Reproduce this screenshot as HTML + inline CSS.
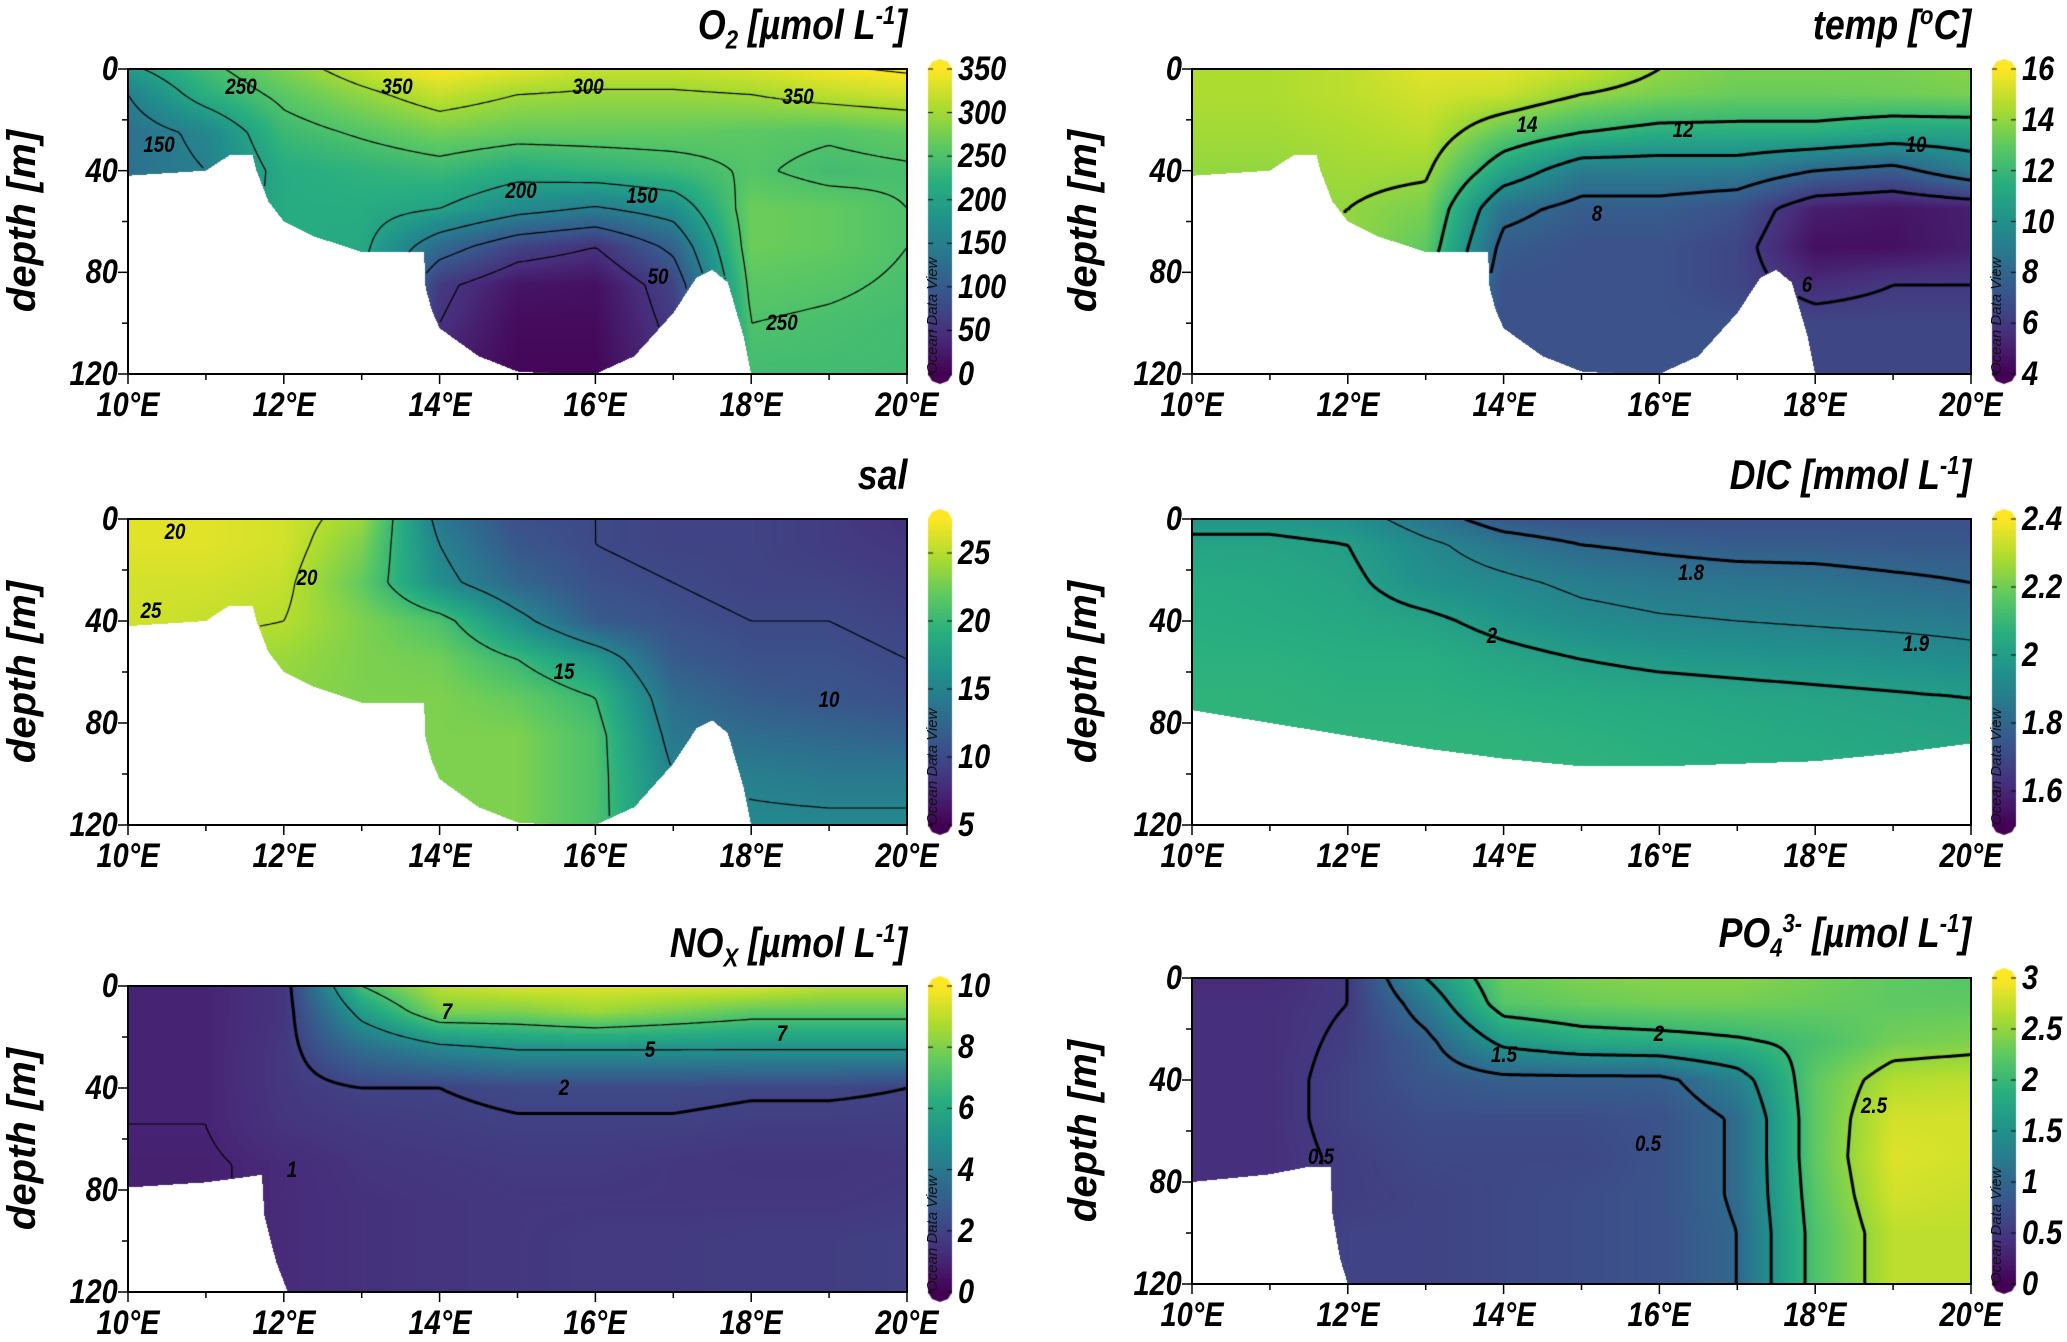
<!DOCTYPE html>
<html><head><meta charset="utf-8">
<style>
html,body{margin:0;padding:0;background:#fff;}
body{width:2067px;height:1335px;position:relative;overflow:hidden;}
.t{font-family:"Liberation Sans",sans-serif;font-weight:bold;font-style:italic;position:absolute;white-space:nowrap;color:#000;line-height:1;}
.title{font-size:42px;transform-origin:100% 50%;transform:scaleX(0.85);}
.title sub,.title sup{font-size:26px;}
.ylab{font-size:40px;transform:translate(-50%,-50%) rotate(-90deg);}
canvas{position:absolute;}
.cl{font-size:22px;transform:translate(-50%,-50%) scaleX(0.85);}
.odv{font-family:"Liberation Sans",sans-serif;font-style:italic;font-size:15px;position:absolute;transform:rotate(-90deg);transform-origin:0 0;white-space:nowrap;color:#111;}
</style></head><body>

<div class="t title" style="right:1160px;top:2px;">O<sub>2</sub> [µmol L<sup>-1</sup>]</div>
<div class="t title" style="right:96px;top:2px;">temp [<sup>o</sup>C]</div>
<div class="t title" style="right:1160px;top:454px;">sal</div>
<div class="t title" style="right:96px;top:452px;">DIC [mmol L<sup>-1</sup>]</div>
<div class="t title" style="right:1160px;top:920px;">NO<sub>X</sub> [µmol L<sup>-1</sup>]</div>
<div class="t title" style="right:96px;top:910px;">PO<sub>4</sub><sup>3-</sup> [µmol L<sup>-1</sup>]</div>

<div class="t ylab" style="left:22px;top:221px;">depth [m]</div>
<div class="t ylab" style="left:1083px;top:221px;">depth [m]</div>
<div class="t ylab" style="left:22px;top:672px;">depth [m]</div>
<div class="t ylab" style="left:1083px;top:672px;">depth [m]</div>
<div class="t ylab" style="left:22px;top:1139px;">depth [m]</div>
<div class="t ylab" style="left:1083px;top:1131px;">depth [m]</div>

<script>
// ---- shared axes data ----
const lonGrid = [10,11,12,13,14,15,16,17,18,19,20];
const depthGrid = [0,10,25,40,55,70,85,100,120];
const xTickLabels = ["10°E","12°E","14°E","16°E","18°E","20°E"];
const xTickValues = [10,12,14,16,18,20];
const yTickValues = [0,40,80,120];

// ---- bathymetry masks ----
const maskALon = [10,11.0,11.3,11.6,11.65,11.8,12.0,12.4,12.8,13.0,13.8,13.82,13.9,14.0,14.5,15.0,15.5,16.0,16.5,17.0,17.3,17.5,17.7,17.9,18.0,20];
const maskABot = [42,40,34,34,40,52,60,66,70,72,72,86,95,102,113,119,120,120,113,96,82,79,84,105,120,120];
const maskDicLon = [10,11,12,13,14,15,16,17,18,19,20];
const maskDicBot = [75,80,85,90,94,97,97,96,95,92,88];
const maskNoxLon = [10,11,11.5,11.72,11.75,11.9,12.05,20];
const maskNoxBot = [79,77,75,74,90,108,120,120];
const maskPoLon = [10,11,11.5,11.78,11.8,11.9,12.0,20];
const maskPoBot = [80,77,74,74,92,110,120,120];

// ---- fields (rows = depthGrid, cols = lonGrid) ----
const o2Values = [
 [190,240,280,320,350,335,320,320,330,345,355],
 [150,220,260,290,320,300,295,295,300,315,325],
 [130,160,235,255,275,265,265,265,260,255,265],
 [130,150,215,225,235,215,225,235,255,240,245],
 [140,160,215,215,200,165,145,170,270,265,250],
 [140,160,215,210,120,70,50,110,270,265,250],
 [140,160,215,200,60,20,15,70,260,255,245],
 [140,160,210,180,50,10,10,60,250,245,240],
 [140,160,210,160,30,5,5,50,240,240,240]];
const tempValues = [
 [14.5,14.5,14.8,15.5,15.5,15,14,13.5,13.5,13.5,13.8],
 [14.5,14.5,14.8,15.2,15,14,13.5,13.2,13.2,13.3,13.5],
 [14.3,14.3,14.5,14.8,13,12,11.5,11.5,11.5,11,11],
 [14,14,14.3,14.2,11,9,9,9,8,7.5,9],
 [14,14,14,13.5,8.5,7.5,7.5,7,5,4.7,5],
 [14,14,14,13,7.5,7,7,6.5,4.5,4.5,5],
 [14,14,14,12,7,7,7,6.5,5.5,6,6],
 [14,14,14,11,7,7,7,7,6.5,6.5,6.5],
 [14,14,14,10,7,7,7,7,6.5,6.5,6.5]];
const salValues = [
 [26.5,26.5,26,24,14,10.5,10,9.5,9.5,9,8],
 [26.5,26.5,26,23,15,11,10,9.5,9.5,9,8.5],
 [26,26,25.5,22,16,12.5,10.5,10,9.5,9.5,9],
 [26,25.5,25,23,21,16,11.5,10.5,10,10,9.5],
 [25,24,24,23,22.5,20,17,11.5,10.5,10.5,10],
 [24,24,23.5,23,23,22,20,13,11.5,11,10.5],
 [23,23,23,23,23,23,21,14,13,12.5,12],
 [23,23,23,23,23,23,21,15,14.5,14,14],
 [23,23,23,23,23,23,21,15.5,15.5,15.5,15.5]];
const dicValues = [
 [1.97,1.97,1.95,1.85,1.75,1.72,1.72,1.72,1.72,1.72,1.72],
 [2.02,2.02,2.0,1.92,1.85,1.8,1.78,1.76,1.76,1.75,1.75],
 [2.05,2.04,2.02,1.95,1.92,1.88,1.86,1.85,1.84,1.82,1.8],
 [2.06,2.05,2.04,2.02,1.97,1.93,1.91,1.9,1.89,1.88,1.87],
 [2.07,2.07,2.06,2.06,2.03,2.0,1.98,1.97,1.96,1.95,1.93],
 [2.08,2.08,2.07,2.07,2.06,2.05,2.04,2.03,2.02,2.01,2.0],
 [2.08,2.08,2.08,2.08,2.08,2.07,2.06,2.05,2.04,2.03,2.02],
 [2.08,2.08,2.08,2.08,2.08,2.08,2.07,2.06,2.05,2.05,2.05],
 [2.08,2.08,2.08,2.08,2.08,2.08,2.07,2.06,2.05,2.05,2.05]];
const noxValues = [
 [1,1,1.5,7,9,9.5,9.5,9.5,9.5,9,9],
 [1,1,1.5,5.5,8,8,8.5,8,7.5,7.5,7.5],
 [1,1,1.6,3.5,4.5,5,5,5,5,5,5],
 [1,1,1.6,2,2,2.2,2.2,2.2,2.1,2.1,2],
 [1,1,1.5,1.7,1.8,1.9,1.9,1.9,1.8,1.8,1.8],
 [0.9,0.9,1.2,1.5,1.6,1.7,1.7,1.6,1.5,1.5,1.6],
 [0.9,0.9,1.2,1.4,1.5,1.6,1.6,1.6,1.6,1.6,1.7],
 [0.9,0.9,1.2,1.4,1.5,1.6,1.7,1.7,1.8,1.8,1.9],
 [0.9,0.9,1.2,1.4,1.5,1.6,1.7,1.7,1.8,1.8,1.9]];
const po4Values = [
 [0.35,0.35,0.5,1.5,2.3,2.4,2.45,2.45,2.35,2.25,2.2],
 [0.4,0.4,0.5,1.2,2.2,2.3,2.35,2.35,2.3,2.25,2.25],
 [0.4,0.4,0.55,0.9,1.6,1.8,1.85,1.95,2.1,2.35,2.4],
 [0.4,0.4,0.6,0.8,0.9,0.9,0.9,1.3,2.25,2.65,2.7],
 [0.4,0.4,0.6,0.7,0.7,0.7,0.75,1.05,2.25,2.8,2.8],
 [0.4,0.4,0.55,0.65,0.65,0.65,0.75,1.05,2.25,2.85,2.8],
 [0.4,0.4,0.55,0.6,0.65,0.7,0.75,1.05,2.2,2.8,2.75],
 [0.4,0.4,0.6,0.6,0.65,0.7,0.75,1.0,2.15,2.7,2.7],
 [0.4,0.4,0.6,0.6,0.65,0.7,0.75,1.0,2.15,2.7,2.7]];

// ---- colorbar ticks ----
const o2Ticks = [0,50,100,150,200,250,300,350];
const tempTicks = [4,6,8,10,12,14,16];
const salTicks = [5,10,15,20,25];
const dicTicks = [1.6,1.8,2,2.2,2.4];
const noxTicks = [0,2,4,6,8,10];
const po4Ticks = [0,0.5,1,1.5,2,2.5,3];

// ---- contour levels ----
const o2Levels = [50,100,150,200,250,300,350];
const tempLevels = [6,8,10,12,14];
const salLevels = [10,15,20,25];
const dicThinLevels = [1.9];
const dicLevels = [1.8,2];
const noxThinLevels = [1,5,7];
const noxLevels = [2];
const po4Levels = [0.5,1,1.5,2,2.5];

// ---- contour label data [lon, depth, text] ----
const o2Labels = [[11.45,7,"250"],[13.45,7,"350"],[15.9,7,"300"],[18.6,11,"350"],[10.4,30,"150"],[15.05,48,"200"],[16.6,50,"150"],[16.8,82,"50"],[18.4,100,"250"]];
const tempLabels = [[14.3,22,"14"],[16.3,24,"12"],[19.3,30,"10"],[15.2,57,"8"],[17.9,85,"6"]];
const salLabels = [[10.6,5,"20"],[10.3,36,"25"],[12.3,23,"20"],[15.6,60,"15"],[19.0,71,"10"]];
const dicLabels = [[16.4,21,"1.8"],[13.85,46,"2"],[19.3,49,"1.9"]];
const noxLabels = [[14.1,10,"7"],[16.7,25,"5"],[18.4,19,"7"],[15.6,40,"2"],[12.1,72,"1"]];
const po4Labels = [[16.0,22,"2"],[14.0,30,"1.5"],[18.75,50,"2.5"],[15.85,65,"0.5"],[11.65,70,"0.5"]];

const panels = [
 {id:"o2",x0:128,x1:907,y0:69,y1:374,cb:928,vmin:0,vmax:350,field:o2Values,ticks:o2Ticks,mLon:maskALon,mBot:maskABot,thick:[],thin:o2Levels,labels:o2Labels},
 {id:"temp",x0:1192,x1:1971,y0:69,y1:374,cb:1992,vmin:4,vmax:16,field:tempValues,ticks:tempTicks,mLon:maskALon,mBot:maskABot,thick:tempLevels,thin:[],labels:tempLabels},
 {id:"sal",x0:128,x1:907,y0:519,y1:825,cb:928,vmin:5,vmax:27.5,field:salValues,ticks:salTicks,mLon:maskALon,mBot:maskABot,thick:[],thin:salLevels,labels:salLabels},
 {id:"dic",x0:1192,x1:1971,y0:519,y1:825,cb:1992,vmin:1.5,vmax:2.4,field:dicValues,ticks:dicTicks,mLon:maskDicLon,mBot:maskDicBot,thick:dicLevels,thin:dicThinLevels,labels:dicLabels},
 {id:"nox",x0:128,x1:907,y0:986,y1:1292,cb:928,vmin:0,vmax:10,field:noxValues,ticks:noxTicks,mLon:maskNoxLon,mBot:maskNoxBot,thick:noxLevels,thin:noxThinLevels,labels:noxLabels},
 {id:"po4",x0:1192,x1:1971,y0:978,y1:1284,cb:1992,vmin:0,vmax:3,field:po4Values,ticks:po4Ticks,mLon:maskPoLon,mBot:maskPoBot,thick:po4Levels,thin:[],labels:po4Labels}
];

const vir = [[68,1,84],[71,45,123],[59,82,139],[44,114,142],[33,145,140],[40,174,128],[94,201,98],[173,220,48],[253,231,37]];
function viridis(t){t=Math.max(0,Math.min(1,t));const f=t*8;const i=Math.min(7,Math.floor(f));const r=f-i;const a=vir[i],b=vir[i+1];return [a[0]+(b[0]-a[0])*r,a[1]+(b[1]-a[1])*r,a[2]+(b[2]-a[2])*r];}
function interp1(xs,ys,x){if(x<=xs[0])return ys[0];for(let i=1;i<xs.length;i++){if(x<=xs[i]){const r=(x-xs[i-1])/(xs[i]-xs[i-1]||1);return ys[i-1]+(ys[i]-ys[i-1])*r;}}return ys[ys.length-1];}
function fieldAt(F,lon,d){
 let fi=(lon-lonGrid[0])/(lonGrid[1]-lonGrid[0]);fi=Math.max(0,Math.min(lonGrid.length-1.0001,fi));const i=Math.floor(fi),ri=fi-i;
 let j=0;while(j<depthGrid.length-2&&d>depthGrid[j+1])j++;const rj=Math.max(0,Math.min(1,(d-depthGrid[j])/(depthGrid[j+1]-depthGrid[j])));
 const a=F[j][i],b=F[j][i+1],c=F[j+1][i],e=F[j+1][i+1];
 return (a*(1-ri)+b*ri)*(1-rj)+(c*(1-ri)+e*ri)*rj;}
function fmt(v){return (Math.round(v*100)/100).toString();}

panels.forEach(p=>{
 const w=p.x1-p.x0,h=p.y1-p.y0;
 const xS=lon=>(lon-10)/10*w, yS=d=>d/120*h;
 const val=(px,py)=>{const lon=10+10*px/w,d=120*py/h;if(d>interp1(p.mLon,p.mBot,lon))return NaN;return fieldAt(p.field,lon,d);};
 const c=document.createElement('canvas');c.width=w;c.height=h;c.style.left=p.x0+'px';c.style.top=p.y0+'px';
 
 
 const ctx=c.getContext('2d');const img=ctx.createImageData(w,h);
 for(let py=0;py<h;py++)for(let px=0;px<w;px++){const v=val(px+0.5,py+0.5);const k=(py*w+px)*4;
  if(isNaN(v)){img.data[k]=255;img.data[k+1]=255;img.data[k+2]=255;img.data[k+3]=255;continue;}
  const col=viridis((v-p.vmin)/(p.vmax-p.vmin));img.data[k]=col[0];img.data[k+1]=col[1];img.data[k+2]=col[2];img.data[k+3]=255;}
 ctx.putImageData(img,0,0);
 // contours
 const s=3,nx=Math.ceil(w/s)+1,ny=Math.ceil(h/s)+1;const G=[];
 for(let j=0;j<ny;j++){G.push([]);for(let i=0;i<nx;i++)G[j].push(val(Math.min(i*s,w),Math.min(j*s,h)));}
 function drawLevels(levels,lw){ctx.strokeStyle='#000';ctx.lineWidth=lw;ctx.beginPath();
  levels.forEach(L=>{for(let j=0;j<ny-1;j++)for(let i=0;i<nx-1;i++){
   const a=G[j][i],b=G[j][i+1],cc=G[j+1][i+1],d=G[j+1][i];if(isNaN(a)||isNaN(b)||isNaN(cc)||isNaN(d))continue;
   const idx=(a>=L?8:0)|(b>=L?4:0)|(cc>=L?2:0)|(d>=L?1:0);if(idx===0||idx===15)continue;
   const X=i*s,Y=j*s;
   const T=[X+s*(L-a)/(b-a),Y],R=[X+s,Y+s*(L-b)/(cc-b)],B=[X+s*(L-d)/(cc-d),Y+s],Le=[X,Y+s*(L-a)/(d-a)];
   const seg=(p1,p2)=>{ctx.moveTo(p1[0],p1[1]);ctx.lineTo(p2[0],p2[1]);};
   switch(idx){case 1:case 14:seg(Le,B);break;case 2:case 13:seg(B,R);break;case 3:case 12:seg(Le,R);break;
    case 4:case 11:seg(T,R);break;case 5:seg(T,Le);seg(B,R);break;case 6:case 9:seg(T,B);break;
    case 7:case 8:seg(T,Le);break;case 10:seg(T,R);seg(Le,B);break;}
  }});ctx.stroke();}
 drawLevels(p.thin,1.2);drawLevels(p.thick,3);
 document.body.appendChild(c);

 // contour labels
 p.labels.forEach(l=>{const el=document.createElement('div');el.className='t cl';
  
  
  el.style.left=(p.x0+xS(l[0]))+'px';el.style.top=(p.y0+yS(l[1]))+'px';el.textContent=l[2];document.body.appendChild(el);});

 // axes frame + ticks (svg)
 const ns='http://www.w3.org/2000/svg';const sv=document.createElementNS(ns,'svg');
 
 
 sv.setAttribute('width',w+30);sv.setAttribute('height',h+30);sv.style.position='absolute';sv.style.left=(p.x0-15)+'px';sv.style.top=(p.y0-15)+'px';sv.style.overflow='visible';
 let sp=`<rect x="15" y="15" width="${w}" height="${h}" fill="none" stroke="#000" stroke-width="2"/>`;
 for(let lon=10;lon<=20;lon++){const x=15+xS(lon);sp+=`<line x1="${x}" y1="${15+h}" x2="${x}" y2="${15+h+(lon%2?6:10)}" stroke="#000" stroke-width="1.5"/>`;}
 for(let d=0;d<=120;d+=20){const y=15+yS(d);sp+=`<line x1="15" y1="${y}" x2="${15-(d%40?6:10)}" y2="${y}" stroke="#000" stroke-width="1.5"/>`;}
 sv.innerHTML=sp;document.body.appendChild(sv);

 xTickValues.forEach((lv,k)=>{const el=document.createElement('div');el.className='t';
  
  
  el.style.fontSize='34px';el.style.left=(p.x0+xS(lv))+'px';el.style.top=(p.y1+14)+'px';el.style.transform='translateX(-50%) scaleX(0.85)';el.textContent=xTickLabels[k];document.body.appendChild(el);});
 yTickValues.forEach(d=>{const el=document.createElement('div');el.className='t';
  
  
  el.style.fontSize='34px';el.style.right=(2067-p.x0+10)+'px';el.style.top=(p.y0+yS(d))+'px';el.style.transform='translateY(-50%) scaleX(0.85)';el.style.transformOrigin='100% 50%';el.textContent=d;document.body.appendChild(el);});

 // colorbar
 const cw=24;const cb=document.createElement('canvas');cb.width=cw+4;cb.height=h+24;cb.style.left=(p.cb-2)+'px';cb.style.top=(p.y0-12)+'px';
 
 
 const bx=cb.getContext('2d');
 for(let y=0;y<=h;y++){const col=viridis(1-y/h);bx.fillStyle=`rgb(${col[0]|0},${col[1]|0},${col[2]|0})`;bx.fillRect(2,12+y,cw,1.5);}
 let ct=viridis(1),cbm=viridis(0);
 bx.fillStyle=`rgb(${ct[0]|0},${ct[1]|0},${ct[2]|0})`;bx.beginPath();bx.moveTo(2,12);bx.lineTo(6,5);bx.lineTo(2+cw/2,2);bx.lineTo(cw-2,5);bx.lineTo(cw+2,12);bx.fill();
 bx.fillStyle=`rgb(${cbm[0]|0},${cbm[1]|0},${cbm[2]|0})`;bx.beginPath();bx.moveTo(2,12+h);bx.lineTo(6,19+h);bx.lineTo(2+cw/2,22+h);bx.lineTo(cw-2,19+h);bx.lineTo(cw+2,12+h);bx.fill();
 bx.strokeStyle='#000';bx.lineWidth=1;
 p.ticks.forEach(tv=>{const y=12+h*(1-(tv-p.vmin)/(p.vmax-p.vmin));bx.beginPath();bx.moveTo(2,y);bx.lineTo(7,y);bx.moveTo(cw-3,y);bx.lineTo(cw+2,y);bx.stroke();});
 document.body.appendChild(cb);
 p.ticks.forEach(tv=>{const el=document.createElement('div');el.className='t';
  
  
  el.style.fontSize='34px';el.style.left=(p.cb+cw+6)+'px';el.style.top=(p.y0+h*(1-(tv-p.vmin)/(p.vmax-p.vmin)))+'px';el.style.transform='translateY(-50%) scaleX(0.85)';el.style.transformOrigin='0 50%';el.textContent=fmt(tv);document.body.appendChild(el);});
 const od=document.createElement('div');od.className='odv';
 
 
 od.style.left=(p.cb-4)+'px';od.style.top=(p.y1)+'px';od.textContent='Ocean Data View';document.body.appendChild(od);
});
</script>
</body></html>
